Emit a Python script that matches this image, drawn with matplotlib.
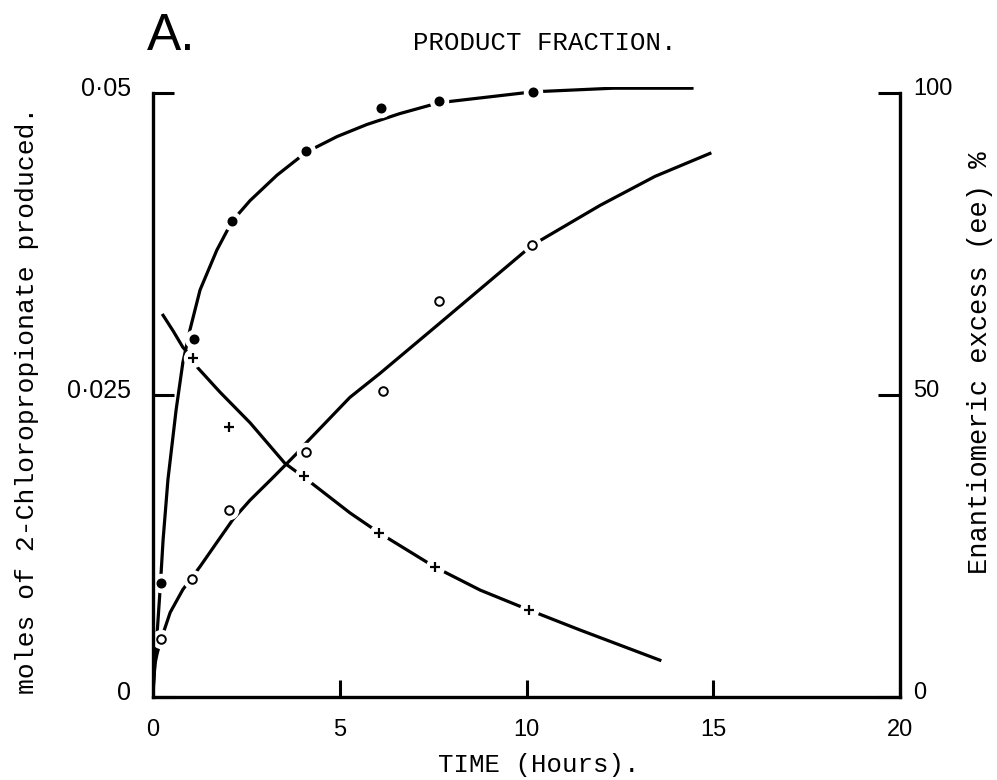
import numpy as np
import matplotlib.pyplot as plt
from matplotlib.transforms import ScaledTranslation

# measured points: time (h) vs moles produced, and time vs ee (%)
t_filled = [0.21, 1.10, 2.12, 4.10, 6.10, 7.66, 10.17]
mol_filled = [0.0094, 0.0296, 0.0394, 0.0452, 0.0488, 0.0493, 0.0501]

t_open = [0.21, 1.04, 2.03, 4.10, 6.16, 7.66, 10.15]
mol_open = [0.0048, 0.0098, 0.0155, 0.0203, 0.0253, 0.0328, 0.0374]

t_ee = [1.07, 2.03, 4.04, 6.05, 7.55, 10.07]
ee_pct = [56.1, 44.7, 36.6, 27.2, 21.5, 14.4]

# hand drawn fitted curves
fit_filled_t = [0.00, 0.08, 0.19, 0.27, 0.40, 0.62, 0.80, 0.99, 1.26, 1.71, 2.12,
                2.60, 3.32, 4.10, 4.93, 5.73, 6.61, 7.66, 10.17, 12.32, 14.43]
fit_filled_mol = [0.0006, 0.0039, 0.0089, 0.0130, 0.0180, 0.0238, 0.0277, 0.0304,
                  0.0337, 0.0370, 0.0394, 0.0411, 0.0432, 0.0451, 0.0464, 0.0474,
                  0.0483, 0.0492, 0.0501, 0.0504, 0.0504]

fit_open_t = [0.00, 0.05, 0.11, 0.21, 0.46, 0.80, 1.02, 1.26, 1.71, 2.14, 2.60,
              3.19, 3.51, 3.86, 4.12, 5.27, 6.08, 7.66, 10.15, 11.97, 13.44, 14.91]
fit_open_mol = [0.0002, 0.0027, 0.0036, 0.0047, 0.0070, 0.0089, 0.0098, 0.0108,
                0.0128, 0.0147, 0.0163, 0.0181, 0.0191, 0.0202, 0.0211, 0.0248,
                0.0268, 0.0309, 0.0374, 0.0407, 0.0431, 0.0450]

fit_ee_t = [0.27, 0.54, 0.80, 1.07, 1.20, 1.79, 2.60, 3.53, 4.04, 5.27, 6.05,
            7.55, 8.76, 10.07, 11.43, 13.57]
fit_ee_pct = [63.2, 60.6, 57.9, 56.0, 54.5, 50.5, 45.4, 38.7, 36.4, 30.5, 27.2,
              21.5, 17.7, 14.4, 11.1, 6.1]

x_ticks = [0, 5, 10, 15, 20]
left_ticks = [0, 0.025, 0.05]
left_labels = ['0', '0·025', '0·05']
right_ticks = [0, 50, 100]

mono = 'Liberation Mono'
sans = 'Liberation Sans'
lw = 2.3

fig = plt.figure(figsize=(9.97, 7.8), dpi=100)
ax = fig.add_axes([153 / 997, 83 / 780, 747 / 997, 610 / 780])
ax2 = ax.twinx()

# curves
ax.plot(fit_filled_t, fit_filled_mol, color='black', lw=lw, zorder=2)
ax.plot(fit_open_t, fit_open_mol, color='black', lw=lw, zorder=2)
ax2.plot(fit_ee_t, fit_ee_pct, color='black', lw=lw, zorder=2)

# white halo so the pen line breaks at each point
for a, xs, ys in [(ax, t_filled, mol_filled), (ax, t_open, mol_open), (ax2, t_ee, ee_pct)]:
    a.plot(xs, ys, ls='none', marker='o', ms=14, mfc='white', mec='none', zorder=3)

ax.plot(t_filled, mol_filled, ls='none', marker='o', ms=6.2, mfc='black', mec='black', zorder=4)
ax.plot(t_open, mol_open, ls='none', marker='o', ms=6.2, mfc='white', mec='black', mew=1.4, zorder=4)
ax2.plot(t_ee, ee_pct, ls='none', marker='+', ms=7.5, mec='black', mew=1.6, zorder=4)

ax.set_xlim(0, 20)
ax.set_ylim(0, 0.0505)
ax2.set_ylim(0, 101)

for s in ['top', 'right']:
    ax.spines[s].set_visible(False)
for s in ['top', 'left', 'bottom']:
    ax2.spines[s].set_visible(False)
ax.spines['left'].set_bounds(0, 0.05)
ax2.spines['right'].set_bounds(0, 100)
for sp in [ax.spines['left'], ax.spines['bottom'], ax2.spines['right']]:
    sp.set_linewidth(2.4)
    sp.set_zorder(6)

ax.set_xticks(x_ticks)
ax.set_xticklabels([str(v) for v in x_ticks], family=sans, fontsize=17)
ax.set_yticks(left_ticks)
ax.set_yticklabels(left_labels, family=sans, fontsize=18)
ax2.set_yticks(right_ticks)
ax2.set_yticklabels([str(v) for v in right_ticks], family=sans, fontsize=17)

ax.tick_params(axis='x', direction='in', length=12, width=2.2, pad=16, top=False)
ax.tick_params(axis='y', direction='in', length=15, width=2.2, pad=16, right=False)
ax2.tick_params(axis='y', direction='in', length=16, width=2.2, pad=9.5)

# typed labels sit a little above their ticks
up = ScaledTranslation(0, 5 / 72, fig.dpi_scale_trans)
for lab in ax.get_yticklabels() + ax2.get_yticklabels():
    lab.set_transform(lab.get_transform() + up)

fig.text(147 / 997, 1 - 50 / 780, 'A.', family=sans, fontsize=37, va='baseline', ha='left')
fig.text(413 / 997, 1 - 50 / 780, 'PRODUCT FRACTION.', family=mono, fontsize=18.5,
         va='baseline', ha='left')
fig.text(438 / 997, 1 - 772 / 780, 'TIME (Hours).', family=mono, fontsize=18.5,
         va='baseline', ha='left')
fig.text(34 / 997, 1 - 400 / 780, 'moles of 2-Chloropropionate produced.', family=mono,
         fontsize=19, rotation=90, rotation_mode='anchor', ha='center', va='baseline')
fig.text(987 / 997, 1 - 363 / 780, 'Enantiomeric excess (ee) %', family=mono,
         fontsize=19.5, rotation=90, rotation_mode='anchor', ha='center', va='baseline')

fig.savefig('out.png', dpi=100)
